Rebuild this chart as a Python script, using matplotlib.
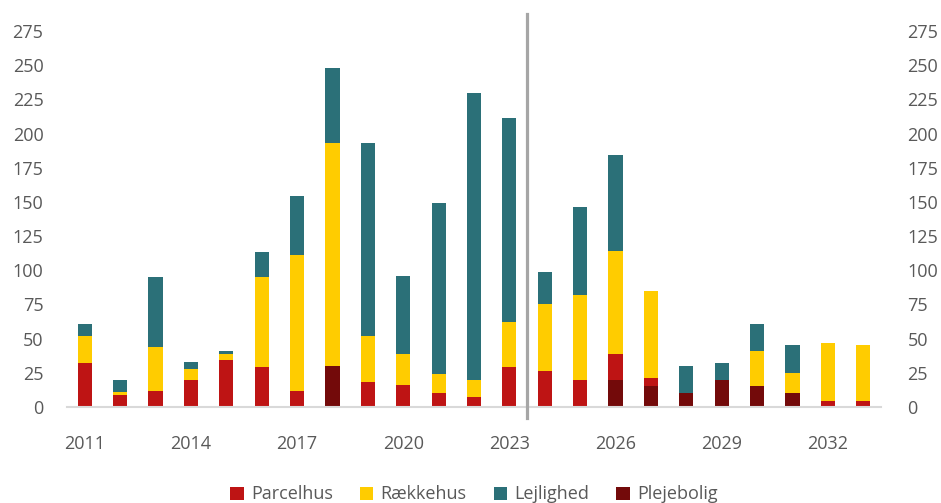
import matplotlib.pyplot as plt
import numpy as np

plt.rcParams['font.family'] = ['Open Sans', 'DejaVu Sans']

years = list(range(2011, 2034))
plejebolig = [0, 0, 0, 0, 0, 0, 0, 30, 0, 0, 0, 0, 0, 0, 0, 20, 15, 10, 20, 15, 10, 0, 0]
parcelhus = [32, 9, 12, 20, 34, 29, 12, 0, 18, 16, 10, 7, 29, 26, 20, 19, 6, 0, 0, 0, 0, 4, 4]
raekkehus = [20, 2, 32, 8, 5, 66, 99, 163, 34, 23, 14, 13, 33, 49, 62, 75, 64, 0, 0, 26, 15, 43, 41]
lejlighed = [9, 9, 51, 5, 2, 18, 43, 55, 141, 57, 125, 210, 149, 24, 64, 70, 0, 20, 12, 20, 20, 0, 0]
tick_years = [2011, 2014, 2017, 2020, 2023, 2026, 2029, 2032]
y_ticks = list(range(0, 276, 25))

c_parcel = '#BE1414'
c_raekke = '#FFCC00'
c_lejl = '#2B7078'
c_pleje = '#730A0A'
txt = '#595959'
fs = 13

fig = plt.figure(figsize=(9.41, 5.03), dpi=100)
ax = fig.add_axes([0.0712, 0.191, 0.865, 0.7474])

x = np.array(years)
w = 0.4
b0 = np.array(plejebolig)
b1 = b0 + np.array(parcelhus)
b2 = b1 + np.array(raekkehus)

ax.bar(x, plejebolig, w, color=c_pleje, label='Plejebolig', zorder=2)
ax.bar(x, parcelhus, w, bottom=b0, color=c_parcel, label='Parcelhus', zorder=2)
ax.bar(x, raekkehus, w, bottom=b1, color=c_raekke, label='Rækkehus', zorder=2)
ax.bar(x, lejlighed, w, bottom=b2, color=c_lejl, label='Lejlighed', zorder=2)

# forecast divider
ax.plot([2023.5, 2023.5], [-8, 287.5], color='#A6A6A6', lw=2.3, clip_on=False, zorder=3)

ax.set_xlim(2010.5, 2033.5)
ax.set_ylim(0, 275)
ax.set_yticks(y_ticks)
ax.set_xticks(tick_years)
ax.tick_params(axis='y', length=0, labelsize=fs, labelcolor=txt, pad=17)
ax.tick_params(axis='x', length=0, labelsize=fs, labelcolor=txt, pad=20)

for s in ['top', 'right', 'left']:
    ax.spines[s].set_visible(False)
ax.spines['bottom'].set_color('#D9D9D9')
ax.spines['bottom'].set_linewidth(1.5)

ax2 = ax.twinx()
ax2.set_ylim(0, 275)
ax2.set_yticks(y_ticks)
ax2.tick_params(axis='y', length=0, labelsize=fs, labelcolor=txt, pad=19)
for s in ax2.spines.values():
    s.set_visible(False)

handles, labels = ax.get_legend_handles_labels()
order = [1, 2, 3, 0]
ax.legend([handles[i] for i in order], [labels[i] for i in order],
          loc='lower center', bbox_to_anchor=(0.5, -0.30), ncol=4, frameon=False,
          fontsize=fs, labelcolor=txt, handlelength=0.75, handleheight=0.75,
          handletextpad=0.4, columnspacing=1.5)

fig.savefig('out.png', dpi=100)
